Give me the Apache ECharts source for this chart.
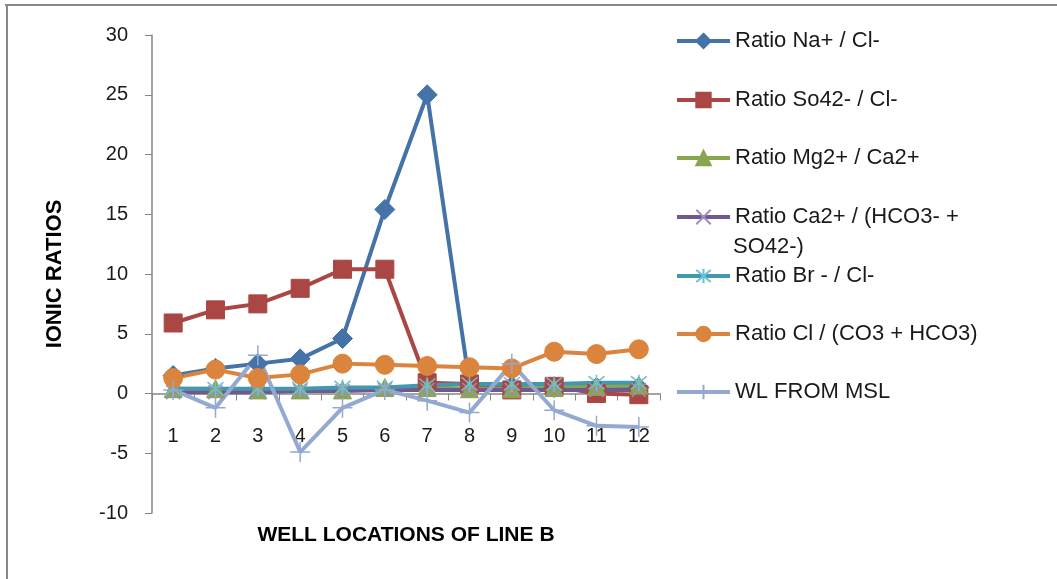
<!DOCTYPE html>
<html>
<head>
<meta charset="utf-8">
<script src="https://cdn.jsdelivr.net/npm/echarts@6/dist/echarts.min.js"></script>
<style>
html,body{margin:0;padding:0;background:#fff;}
#chart{width:1057px;height:579px;}
</style>
</head>
<body>
<div id="chart"></div>
<script>
// ---- data ----
const categories = ['1','2','3','4','5','6','7','8','9','10','11','12'];
const yTicks = [-10, -5, 0, 5, 10, 15, 20, 25, 30];
const naCl   = [1.5, 2.1, 2.5, 2.9, 4.6, 15.4, 25.0, 0.8, 0.6, 0.5, 0.5, 0.5];
const so4Cl  = [5.9, 7.0, 7.5, 8.8, 10.4, 10.4, 0.9, 0.8, 0.3, 0.6, 0.0, -0.1];
const mgCa   = [0.4, 0.4, 0.3, 0.3, 0.3, 0.5, 0.5, 0.4, 0.4, 0.5, 0.6, 0.7];
const caHco3 = [0.1, 0.1, 0.1, 0.2, 0.2, 0.3, 0.3, 0.3, 0.3, 0.3, 0.3, 0.3];
const brCl   = [0.4, 0.4, 0.4, 0.4, 0.5, 0.5, 0.7, 0.8, 0.8, 0.8, 0.9, 0.9];
const clCo3  = [1.3, 2.0, 1.3, 1.6, 2.5, 2.4, 2.3, 2.2, 2.1, 3.5, 3.3, 3.7];
const wlMsl  = [0.3, -1.2, 3.2, -4.9, -1.2, 0.3, -0.6, -1.6, 2.5, -1.4, -2.7, -2.8];
const names = ['Ratio Na+ / Cl-', 'Ratio So42- / Cl-', 'Ratio Mg2+ / Ca2+',
  'Ratio Ca2+ / (HCO3- +', 'Ratio Br - / Cl-', 'Ratio Cl / (CO3 + HCO3)', 'WL FROM MSL'];
const nameExtra = 'SO42-)';
const xName = 'WELL LOCATIONS OF LINE B';
const yName = 'IONIC RATIOS';

const FONT = '"Liberation Sans", Arial, sans-serif';
const chart = echarts.init(document.getElementById('chart'), null, {renderer: 'canvas'});

const GRID_TOP = 35, GRID_BOTTOM = 66, H = 579;
const plotH = H - GRID_TOP - GRID_BOTTOM;
const yMin = yTicks[0], yMax = yTicks[yTicks.length - 1];
// distance from the bottom of the grid to the value 0 (so the category axis sits on zero)
const zeroOffset = plotH * (0 - yMin) / (yMax - yMin);

function mk(name, data, color, symbol, size, markColor, extra) {
  return Object.assign({
    type: 'line', name: name, data: data,
    symbol: symbol, symbolSize: size,
    lineStyle: {color: color, width: 4},
    itemStyle: {color: markColor || color, borderColor: markColor || color, borderWidth: 1},
    emphasis: {disabled: true}
  }, extra || {});
}
const pathX = 'path://M0,0L10,10M10,0L0,10';
const pathStar = 'path://M0,0L10,10M10,0L0,10M5,-1L5,11';
const pathPlus = 'path://M5,0L5,10M0,5L10,5';

const series = [
  mk(names[0], naCl, '#4572A7', 'diamond', 20),
  mk(names[1], so4Cl, '#AA4643', 'rect', 18),
  mk(names[2], mgCa, '#89A54E', 'triangle', 18),
  mk(names[3], caHco3, '#71588F', pathX, 14, null,
     {itemStyle: {color: 'none', borderColor: '#A08CC0', borderWidth: 1.5}}),
  mk(names[4], brCl, '#4198AF', pathStar, 16, null,
     {itemStyle: {color: 'none', borderColor: '#6CC0D6', borderWidth: 1.5}}),
  mk(names[5], clCo3, '#DB843D', 'circle', 19),
  mk(names[6], wlMsl, '#93A9CF', pathPlus, 20, null,
     {itemStyle: {color: 'none', borderColor: '#93A9CF', borderWidth: 1.5}})
];

const legendCenters = [40, 99, 157, 216, 275, 333, 391];
const legends = names.map((n, i) => ({
  data: [n], orient: 'vertical', left: 675, top: legendCenters[i] - 10, padding: 0,
  itemWidth: 53, itemHeight: 18, itemGap: 0, selectedMode: false,
  lineStyle: {width: 4},
  textStyle: {fontFamily: FONT, fontSize: 22, color: '#1a1a1a'}
}));

const option = {
  animation: false,
  backgroundColor: '#fff',
  grid: {left: 152, right: 397, top: GRID_TOP, bottom: GRID_BOTTOM, containLabel: false},
  legend: legends,
  xAxis: {
    type: 'category', data: categories, boundaryGap: true,
    offset: -zeroOffset,
    axisLine: {onZero: false, lineStyle: {color: '#868686', width: 1.5}},
    axisTick: {show: true, length: 7, lineStyle: {color: '#868686'}},
    axisLabel: {margin: 33, fontFamily: FONT, fontSize: 20, color: '#1a1a1a'},
    splitLine: {show: false}
  },
  yAxis: {
    type: 'value', min: yMin, max: yMax, interval: 5,
    axisLine: {show: true, lineStyle: {color: '#868686', width: 1.5}},
    axisTick: {show: true, length: 7, lineStyle: {color: '#868686'}},
    axisLabel: {margin: 24, fontFamily: FONT, fontSize: 20, color: '#1a1a1a'},
    splitLine: {show: false}
  },
  graphic: [
    {type: 'line', shape: {x1: 5, y1: 5, x2: 1057, y2: 5}, style: {stroke: '#888', lineWidth: 2}, silent: true},
    {type: 'line', shape: {x1: 7, y1: 5, x2: 7, y2: 579}, style: {stroke: '#888', lineWidth: 2}, silent: true},
    {type: 'text', left: 733, top: 247 - 11,
     style: {text: nameExtra, font: '22px ' + FONT, fill: '#1a1a1a'}},
    {type: 'text', x: 55, y: 274, rotation: Math.PI / 2,
     style: {text: yName, font: 'bold 22px ' + FONT, fill: '#000', align: 'center', verticalAlign: 'middle'}},
    {type: 'text', x: 406, y: 535,
     style: {text: xName, font: 'bold 21px ' + FONT, fill: '#000', align: 'center', verticalAlign: 'middle'}}
  ],
  series: series
};
chart.setOption(option);
</script>
</body>
</html>
